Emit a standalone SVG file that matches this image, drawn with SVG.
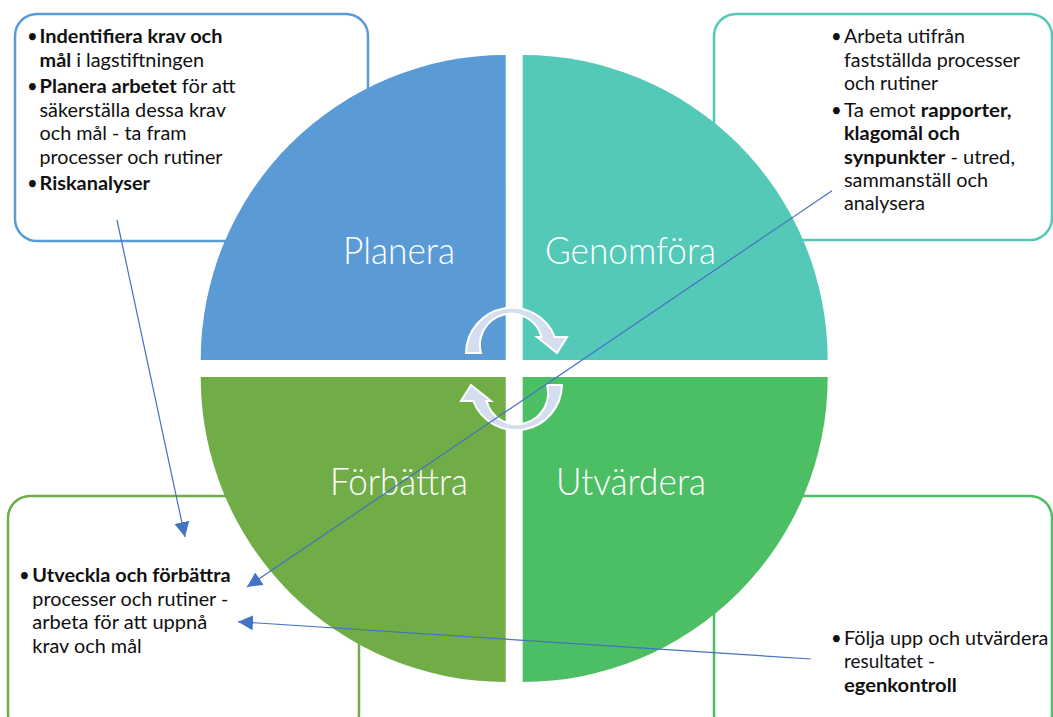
<svg xmlns="http://www.w3.org/2000/svg" width="1053" height="717" viewBox="0 0 1053 717">
<style>
.box{fill:#fff;stroke-width:2.5}
.t{font-family:Lato,"Liberation Sans",sans-serif;font-size:18.5px;fill:#111}
.b{font-weight:bold}
.q{font-family:Lato,"Open Sans",sans-serif;font-weight:300;font-size:37px;fill:#fff}
.con{stroke:#4472C4;stroke-width:1.2;fill:none;marker-end:url(#ah)}
.ca{fill:#D5DEEE;stroke:#fff;stroke-width:2}
</style>
<defs>
<marker id="ah" markerUnits="userSpaceOnUse" markerWidth="16" markerHeight="16" refX="15" refY="8" orient="auto">
<path d="M0,0.5 L15,8 L0,15.5 Z" fill="#4472C4"/>
</marker>
</defs>

<g id="box-planera">
<rect class="box" x="15" y="14" width="353" height="227" rx="22" stroke="#5B9BD5"/>
</g>
<g id="box-genomfora">
<rect class="box" x="714" y="14" width="338" height="226" rx="22" stroke="#54C9B7"/>
</g>
<g id="box-forbattra">
<rect class="box" x="8" y="496" width="351" height="240" rx="22" stroke="#70AD47"/>
</g>
<g id="box-utvardera">
<rect class="box" x="714" y="496" width="338" height="240" rx="22" stroke="#4CBF64"/>
</g>

<g id="q-planera">
<path d="M505.7,360 L200.7,360 A305,305 0 0 1 505.7,55 Z" fill="#5B9BD5"/>
<text class="q" x="343" y="264" textLength="112" lengthAdjust="spacingAndGlyphs">Planera</text>
</g>
<g id="q-genomfora">
<path d="M522.7,360 L522.7,55 A305,305 0 0 1 827.7,360 Z" fill="#54C9B7"/>
<text class="q" x="545" y="264" textLength="171" lengthAdjust="spacingAndGlyphs">Genomföra</text>
</g>
<g id="q-utvardera">
<path d="M522.7,377 L827.7,377 A305,305 0 0 1 522.7,682 Z" fill="#4CBF64"/>
<text class="q" x="556" y="495" textLength="150" lengthAdjust="spacingAndGlyphs">Utvärdera</text>
</g>
<g id="q-forbattra">
<path d="M505.7,377 L505.7,682 A305,305 0 0 1 200.7,377 Z" fill="#70AD47"/>
<text class="q" x="330" y="495" textLength="138" lengthAdjust="spacingAndGlyphs">Förbättra</text>
</g>

<g id="cycle-arrows">
<path id="arc-top" class="ca" d="M466,353 A46,46 0 0 1 554.8,337 L567,337 L557,353 L537,337 L541.5,337 A31,31 0 0 0 481,353 Z"/>
<use href="#arc-top" transform="rotate(180 514 369)"/>
</g>

<g id="text-planera">
<text class="t" x="27" y="43">•</text>
<text class="t" x="39.5" y="43" textLength="183" lengthAdjust="spacingAndGlyphs"><tspan class="b">Indentifiera krav och</tspan></text>
<text class="t" x="39.5" y="66.5" textLength="164.5" lengthAdjust="spacingAndGlyphs"><tspan class="b">mål</tspan> i lagstiftningen</text>
<text class="t" x="27" y="93">•</text>
<text class="t" x="39.5" y="93" textLength="196" lengthAdjust="spacingAndGlyphs"><tspan class="b">Planera arbetet</tspan> för att</text>
<text class="t" x="39.5" y="116.5" textLength="186.5" lengthAdjust="spacingAndGlyphs">säkerställa dessa krav</text>
<text class="t" x="39.5" y="140" textLength="147" lengthAdjust="spacingAndGlyphs">och mål - ta fram</text>
<text class="t" x="39.5" y="163.5" textLength="183" lengthAdjust="spacingAndGlyphs">processer och rutiner</text>
<text class="t" x="27" y="190">•</text>
<text class="t" x="39.5" y="190" textLength="110.5" lengthAdjust="spacingAndGlyphs"><tspan class="b">Riskanalyser</tspan></text>
</g>

<g id="text-genomfora">
<text class="t" x="831" y="43.3">•</text>
<text class="t" x="844" y="43.3" textLength="121" lengthAdjust="spacingAndGlyphs">Arbeta utifrån</text>
<text class="t" x="844" y="66.5" textLength="176" lengthAdjust="spacingAndGlyphs">fastställda processer</text>
<text class="t" x="844" y="90" textLength="94" lengthAdjust="spacingAndGlyphs">och rutiner</text>
<text class="t" x="831" y="117">•</text>
<text class="t" x="844" y="117" textLength="167.5" lengthAdjust="spacingAndGlyphs">Ta emot <tspan class="b">rapporter,</tspan></text>
<text class="t" x="844" y="140" textLength="116" lengthAdjust="spacingAndGlyphs"><tspan class="b">klagomål och</tspan></text>
<text class="t" x="844" y="163.5" textLength="171" lengthAdjust="spacingAndGlyphs"><tspan class="b">synpunkter</tspan> - utred,</text>
<text class="t" x="844" y="187" textLength="144" lengthAdjust="spacingAndGlyphs">sammanställ och</text>
<text class="t" x="844" y="210" textLength="81" lengthAdjust="spacingAndGlyphs">analysera</text>
</g>

<g id="text-forbattra">
<text class="t" x="19" y="581.7">•</text>
<text class="t" x="32.3" y="581.7" textLength="198.4" lengthAdjust="spacingAndGlyphs"><tspan class="b">Utveckla och förbättra</tspan></text>
<text class="t" x="32.3" y="605.5" textLength="196" lengthAdjust="spacingAndGlyphs">processer och rutiner -</text>
<text class="t" x="32.3" y="629.3" textLength="175" lengthAdjust="spacingAndGlyphs">arbeta för att uppnå</text>
<text class="t" x="32.3" y="652.7" textLength="109.4" lengthAdjust="spacingAndGlyphs">krav och mål</text>
</g>

<g id="text-utvardera">
<text class="t" x="831" y="645">•</text>
<text class="t" x="844" y="645" textLength="204.3" lengthAdjust="spacingAndGlyphs">Följa upp och utvärdera</text>
<text class="t" x="844" y="668.3" textLength="91" lengthAdjust="spacingAndGlyphs">resultatet -</text>
<text class="t" x="844" y="691.7" textLength="112.7" lengthAdjust="spacingAndGlyphs"><tspan class="b">egenkontroll</tspan></text>
</g>

<g id="connectors">
<line class="con" x1="117" y1="220" x2="185" y2="537"/>
<line class="con" x1="832" y1="190.7" x2="247" y2="587"/>
<line class="con" x1="810.7" y1="659" x2="238" y2="621.7"/>
</g>
</svg>
